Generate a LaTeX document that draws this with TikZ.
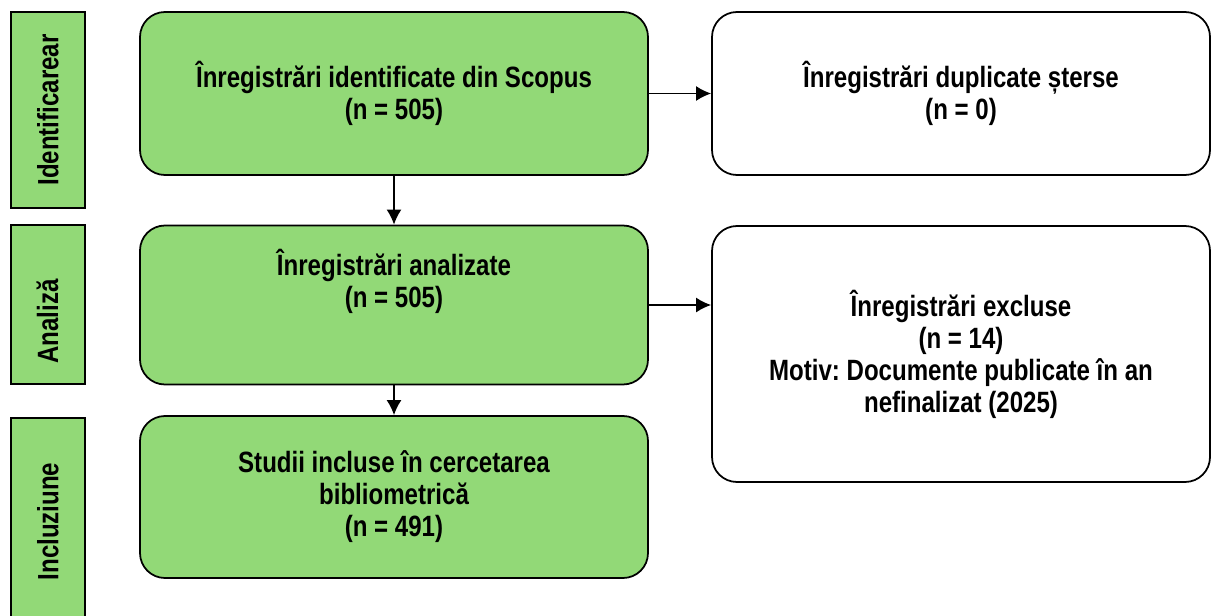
\documentclass[tikz,border=0pt]{standalone}
\usepackage{fontspec}
\setmainfont{Liberation Sans}[FakeStretch=0.82]
\usepackage{xcolor}
\usetikzlibrary{arrows.meta,calc,positioning}
\definecolor{boxgreen}{HTML}{92D977}
\frenchspacing

\begin{document}
\begin{tikzpicture}[>=Latex,
  boxfont/.style={font=\bfseries\fontsize{16.7}{18.2}\selectfont},
  phase/.style={boxfont,draw,line width=1pt,fill=boxgreen,rotate=90,minimum height=1.48cm},
  greenbox/.style={boxfont,draw,line width=1pt,fill=boxgreen,rounded corners=0.5cm,minimum width=10.16cm,align=center},
  whitebox/.style={boxfont,draw,line width=1pt,fill=white,rounded corners=0.5cm,minimum width=9.96cm,align=center},
  boxtext/.style={boxfont,align=center,inner sep=0pt},
  arr/.style={line width=1pt,-{Latex[length=3mm,width=3mm]}}]
\useasboundingbox (0,0) rectangle (24.26,-12.3);
% fazele
\node[phase,minimum width=3.92cm] (ident) at (0.96,-2.2) {Identificarear};
\node[phase,minimum width=3.18cm] (analiza) at (0.96,-6.09) {};
\node[boxtext,rotate=90] (analizatxt) at ($(analiza)+(-0.01,-0.34)$) {Analiză};
\node[phase,minimum width=4.14cm] (incl) at (0.96,-10.43) {Incluziune};
% casete principale
\node[greenbox,minimum height=3.26cm] (scopus) at (7.88,-1.87) {Înregistrări identificate din Scopus\\(n = 505)};
\node[greenbox,minimum height=3.18cm] (analiz) at (7.88,-6.1) {};
\node[boxtext] (analiztxt) at ($(analiz)+(0,0.48)$) {Înregistrări analizate\\(n = 505)};
\node[greenbox,minimum height=3.24cm] (inclus) at (7.88,-9.94) {Studii incluse în cercetarea\\bibliometrică\\(n = 491)};
% casete laterale
\node[whitebox,minimum height=3.26cm] (dupl) at (19.22,-1.87) {Înregistrări duplicate șterse\\(n = 0)};
\node[whitebox,minimum height=5.12cm] (exclus) at (19.22,-7.08) {Înregistrări excluse\\(n = 14)\\Motiv: Documente publicate în an\\nefinalizat (2025)};
% sageti
\draw[arr] (scopus.east) -- (dupl.west);
\draw[arr] (scopus.south) -- (analiz.north);
\draw[arr] (analiz.east) -- (analiz.east -| exclus.west);
\draw[arr] (analiz.south) -- (inclus.north);
\end{tikzpicture}
\end{document}
